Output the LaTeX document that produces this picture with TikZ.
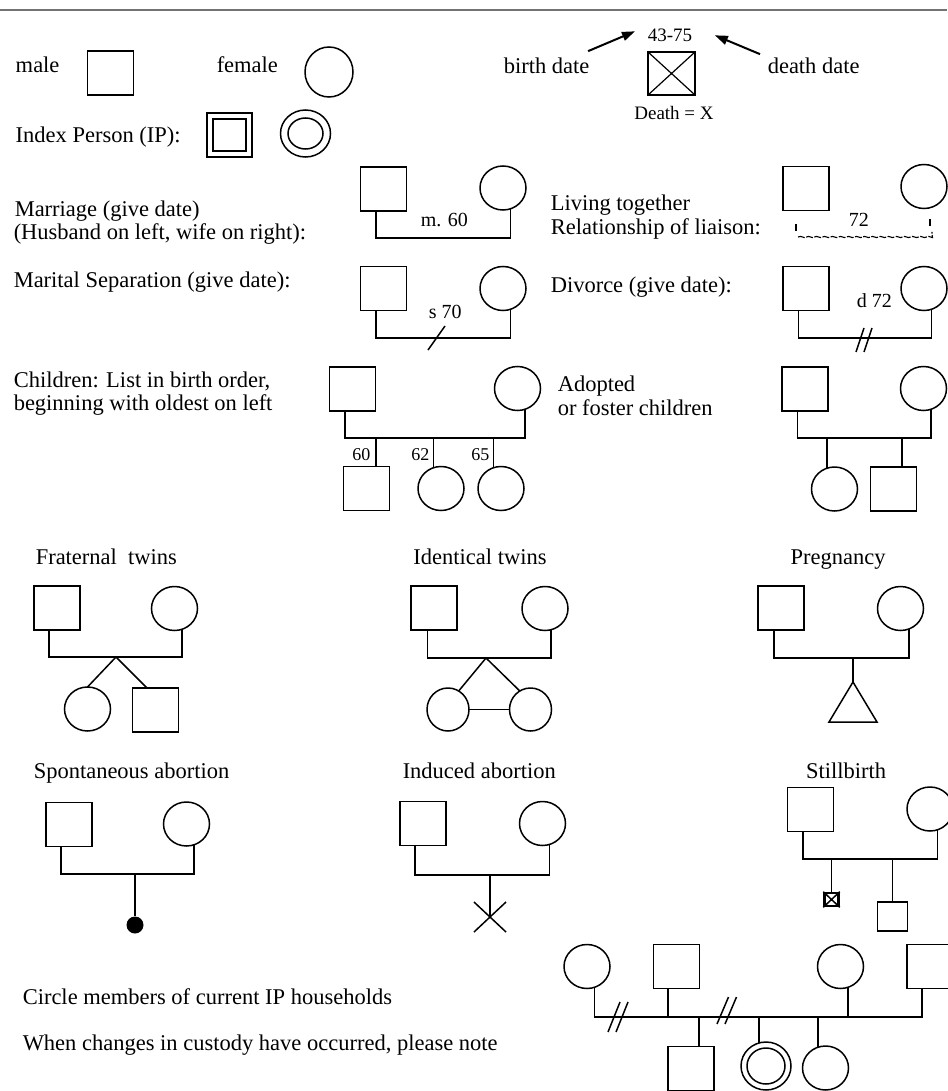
\documentclass[tikz,border=0pt]{standalone}
\usepackage{fontspec}
\setmainfont{Liberation Serif}
\usetikzlibrary{shapes.geometric,arrows.meta,decorations.pathmorphing}

\begin{document}
\begin{tikzpicture}[x=1pt,y=-1pt,line width=1.5pt,
  male/.style={draw,rectangle,minimum width=46,minimum height=44,inner sep=0,outer sep=0},
  female/.style={draw,ellipse,minimum width=46,minimum height=44,inner sep=0,outer sep=0},
  txt/.style={anchor=base west,inner sep=0,font=\fontsize{22.5}{25}\selectfont},
  datelbl/.style={anchor=base west,inner sep=0,font=\fontsize{20}{22}\selectfont},
  num/.style={anchor=base east,inner sep=0,font=\fontsize{18}{20}\selectfont},
  arr/.style={line width=2pt,-{Triangle[length=13pt,width=9pt]}},
  liaison/.style={line width=1.1pt,decorate,decoration={snake,amplitude=0.6pt,segment length=8pt},
    dash pattern=on 7pt off 1.5pt}]
\useasboundingbox (0,0) rectangle (947,1091);
% ---- top rule ----
\draw[black!55,line width=1.6pt] (0,10) -- (947,10);
% ---- male / female / death ----
\node[txt] (tmale) at (15,73) {male};
\node[male] (m1) at (110.5,73) {};
\node[txt] (tfemale) at (216,73) {female};
\node[female,minimum width=48,minimum height=50] (f1) at (329,72) {};
\node[txt] (tbirth) at (503,74) {birth date};
\node[datelbl,font=\fontsize{19}{21}\selectfont] (tyears) at (647,42) {43-75};
\node[male,minimum width=47,minimum height=43] (dead) at (671.5,73.5) {};
\draw[line width=1.2pt] (dead.north west) -- (dead.south east) (dead.north east) -- (dead.south west);
\node[txt] (tdeath) at (767,74) {death date};
\node[anchor=base,inner sep=0,font=\fontsize{19}{21}\selectfont] (tdx) at (674,120) {Death = X};
\draw[arr] ([shift={(-2,-6.5)}]tbirth.north east) -- ([shift={(-12,-4.5)}]tyears.west);
\draw[arr] ([shift={(-7,-3.5)}]tdeath.north west) -- ([shift={(22,-0.5)}]tyears.east);
% ---- index person ----
\node[txt] (tip) at (15,143) {Index Person (IP):};
\node[male,minimum width=45] (ipm) at (229.5,135) {};
\node[draw,rectangle,minimum width=33,minimum height=32,inner sep=0] (ipmin) at (ipm) {};
\node[female,minimum width=50,minimum height=47] (ipf) at (305.5,133.5) {};
\node[draw,ellipse,minimum width=35,minimum height=31,inner sep=0] (ipfin) at (ipf) {};
% ---- marriage ----
\node[txt] (tmar1) at (14,217) {Marriage (give date)};
\node[txt] (tmar2) at (13,240) {(Husband on left, wife on right):};
\node[male] (mh) at (383.5,189) {};
\node[female] (mw) at (503,188) {};
\coordinate (ml) at (376,238);
\draw (mh.251) -- (mh.251 |- ml) -- (mw.290 |- ml) -- (mw.290);
\node[datelbl] (tm60) at (420,227) {m. 60};
% ---- living together ----
\node[txt] (tliv1) at (550,211) {Living together};
\node[txt] (tliv2) at (550,235) {Relationship of liaison:};
\node[male] (lh) at (806,188.5) {};
\node[female] (lw) at (924,186.5) {};
\coordinate (ll) at (798,237);
\draw[line width=1.1pt] ([shift={(-10,14)}]lh.south) -- ++(0,7) ([shift={(6,11)}]lw.south) -- ++(0,7);
\draw[liaison] (ll) -- ++(134,0) -- ++(0,-5);
\node[datelbl] (t72) at (848,227) {72};
% ---- separation ----
\node[txt] (tsep) at (13,287) {Marital Separation (give date):};
\node[male] (sh) at (383.5,288.5) {};
\node[female] (sw) at (503,288.5) {};
\coordinate (sl) at (376,338);
\draw (sh.251) -- (sh.251 |- sl) -- (sw.290 |- sl) -- (sw.290);
\draw ([shift={(52,12)}]sl) -- ++(17,-24);
\node[datelbl] (ts70) at (428,318) {s 70};
% ---- divorce ----
\node[txt] (tdiv) at (550,292) {Divorce (give date):};
\node[male] (dh) at (806,288.5) {};
\node[female] (dw) at (924,288.5) {};
\coordinate (dl) at (798,338);
\draw (dh.251) -- (dh.251 |- dl) -- (dw.290 |- dl) -- (dw.290);
\draw ([shift={(58,14)}]dl) -- ++(8,-24) ([shift={(66,14)}]dl) -- ++(8,-24);
\node[datelbl] (td72) at (856,307) {d 72};
% ---- children ----
\node[txt] (tch1) at (13,387) {Children: List in birth order,};
\node[txt] (tch2) at (13,410) {beginning with oldest on left};
\node[male] (ch) at (352.5,389) {};
\node[female] (cw) at (517.5,388.5) {};
\coordinate (cl) at (345,438);
\draw (ch.251) -- (ch.251 |- cl) -- (cw.290 |- cl) -- (cw.290);
\node[male] (k1) at (366.5,488.5) {};
\node[female] (k2) at (441,488.5) {};
\node[female] (k3) at (501,488.5) {};
\foreach \k/\a in {k1/67,k2/110,k3/110} \draw (\k.\a) -- (\k.\a |- cl);
\foreach \x/\yr in {371/60,430/62,490/65} \node[num] (yr\yr) at (\x,460) {\yr};
% ---- adopted ----
\node[txt] (tad1) at (557,391) {Adopted};
\node[txt] (tad2) at (557,415) {or foster children};
\node[male] (ah) at (805,389) {};
\node[female] (aw) at (923.5,388.5) {};
\coordinate (al) at (797,438);
\draw (ah.251) -- (ah.251 |- al) -- (aw.290 |- al) -- (aw.290);
\node[female] (a1) at (834.5,489) {};
\node[male] (a2) at (893.5,489) {};
\draw (a1.110) -- (a1.110 |- al) (a2.69) -- (a2.69 |- al);
% ---- fraternal twins ----
\node[txt] (tfr) at (35,564) {Fraternal\ \ twins};
\node[male] (fh) at (57,608) {};
\node[female] (fw) at (174.5,608.5) {};
\coordinate (fl) at (116,657);
\draw (fh.250) -- (fh.250 |- fl) -- (fw.290 |- fl) -- (fw.290);
\node[female] (ft1) at (87.5,709) {};
\node[male] (ft2) at (155.5,710) {};
\draw (ft1.north) -- (fl) -- (ft2.111);
% ---- identical twins ----
\node[txt,anchor=base] (tid) at (480,564) {Identical twins};
\node[male] (ih) at (434,608) {};
\node[female] (iw) at (545,608.5) {};
\coordinate (il) at (486,658);
\draw (ih.254) -- (ih.254 |- il) -- (iw.286 |- il) -- (iw.286);
\node[female,minimum width=42,minimum height=43] (it1) at (448,709.5) {};
\node[female,minimum width=42,minimum height=43] (it2) at (530.5,709.5) {};
\draw (it1.60) -- (il) -- (it2.120);
\draw (it1.east) -- (it2.west);
% ---- pregnancy ----
\node[txt,anchor=base] (tpr) at (838,564) {Pregnancy};
\node[male] (ph) at (781,608) {};
\node[female] (pw) at (900.5,608.5) {};
\coordinate (pl) at (853,658);
\draw (ph.252) -- (ph.252 |- pl) -- (pw.292 |- pl) -- (pw.292);
\coordinate (pa) at (853,682);
\draw (pl) -- (pa);
\draw (pa) -- ++(-24,40) -- ++(48,0) -- cycle;
% ---- spontaneous abortion ----
\node[txt] (tsp) at (33,778) {Spontaneous abortion};
\node[male] (sah) at (69,824.5) {};
\node[female] (saw) at (186.5,824) {};
\coordinate (sal) at (135,874);
\draw (sah.250) -- (sah.250 |- sal) -- (saw.290 |- sal) -- (saw.290);
\node[circle,fill,minimum size=17,inner sep=0] (sad) at (135,925) {};
\draw (sal) -- (sad);
% ---- induced abortion ----
\node[txt] (tin) at (402,778) {Induced abortion};
\node[male] (iah) at (423,823.5) {};
\node[female] (iaw) at (542.5,823.5) {};
\coordinate (ial) at (490,875);
\draw (iah.250) -- (iah.250 |- ial) -- (iaw.288 |- ial) -- (iaw.288);
\coordinate (iax) at (490,917);
\draw (ial) -- (iax);
\draw ([shift={(-16,-15)}]iax) -- ([shift={(16,15)}]iax) ([shift={(16,-15)}]iax) -- ([shift={(-16,15)}]iax);
% ---- stillbirth ----
\node[txt,anchor=base] (tsb) at (846,778) {Stillbirth};
\node[male] (sbh) at (810.5,809.5) {};
\node[female] (sbw) at (930,809) {};
\coordinate (sbl) at (803,859);
\draw (sbh.251) -- (sbh.251 |- sbl) -- (sbw.290 |- sbl) -- (sbw.290);
\node[draw,line width=2.5pt,minimum width=14,minimum height=13,inner sep=0] (sbx) at (831.5,899.5) {};
\draw[line width=1.5pt] (sbx.north west) -- (sbx.south east) (sbx.north east) -- (sbx.south west);
\draw (sbx.north) -- (sbx.north |- sbl);
\node[draw,minimum width=30,minimum height=29,inner sep=0] (sbk) at (892.5,916.5) {};
\draw (sbk.north) -- (sbk.north |- sbl);
% ---- households ----
\node[txt] (tcm) at (22,1004) {Circle members of current IP households};
\node[txt] (tcc) at (22,1050) {When changes in custody have occurred, please note};
\node[female] (b1) at (587,966.5) {};
\node[male] (b2) at (676.5,966.5) {};
\node[female] (b3) at (840.5,966.5) {};
\node[male] (b4) at (930,966.5) {};
\coordinate (bl) at (595,1017);
\draw (b1.290) -- (b1.290 |- bl) -- (b4.250 |- bl) -- (b4.250);
\foreach \n/\a in {b2/249,b3/290} \draw (\n.\a) -- (\n.\a |- bl);
\node[male] (bk1) at (691,1068.5) {};
\node[female,minimum width=50,minimum height=48] (bk2) at (766,1066) {};
\node[draw,ellipse,minimum width=38,minimum height=36,inner sep=0] (bk2in) at (bk2) {};
\node[female] (bk3) at (825.5,1068) {};
\foreach \n/\a in {bk1/70,bk2/107,bk3/110} \draw (\n.\a) -- (\n.\a |- bl);
\draw ([shift={(13,15)}]bl) -- ++(12,-30) ([shift={(21,15)}]bl) -- ++(12,-30);
\draw ([shift={(122,7)}]bl) -- ++(11.5,-27) ([shift={(130,7)}]bl) -- ++(11.5,-27);
\end{tikzpicture}
\end{document}
